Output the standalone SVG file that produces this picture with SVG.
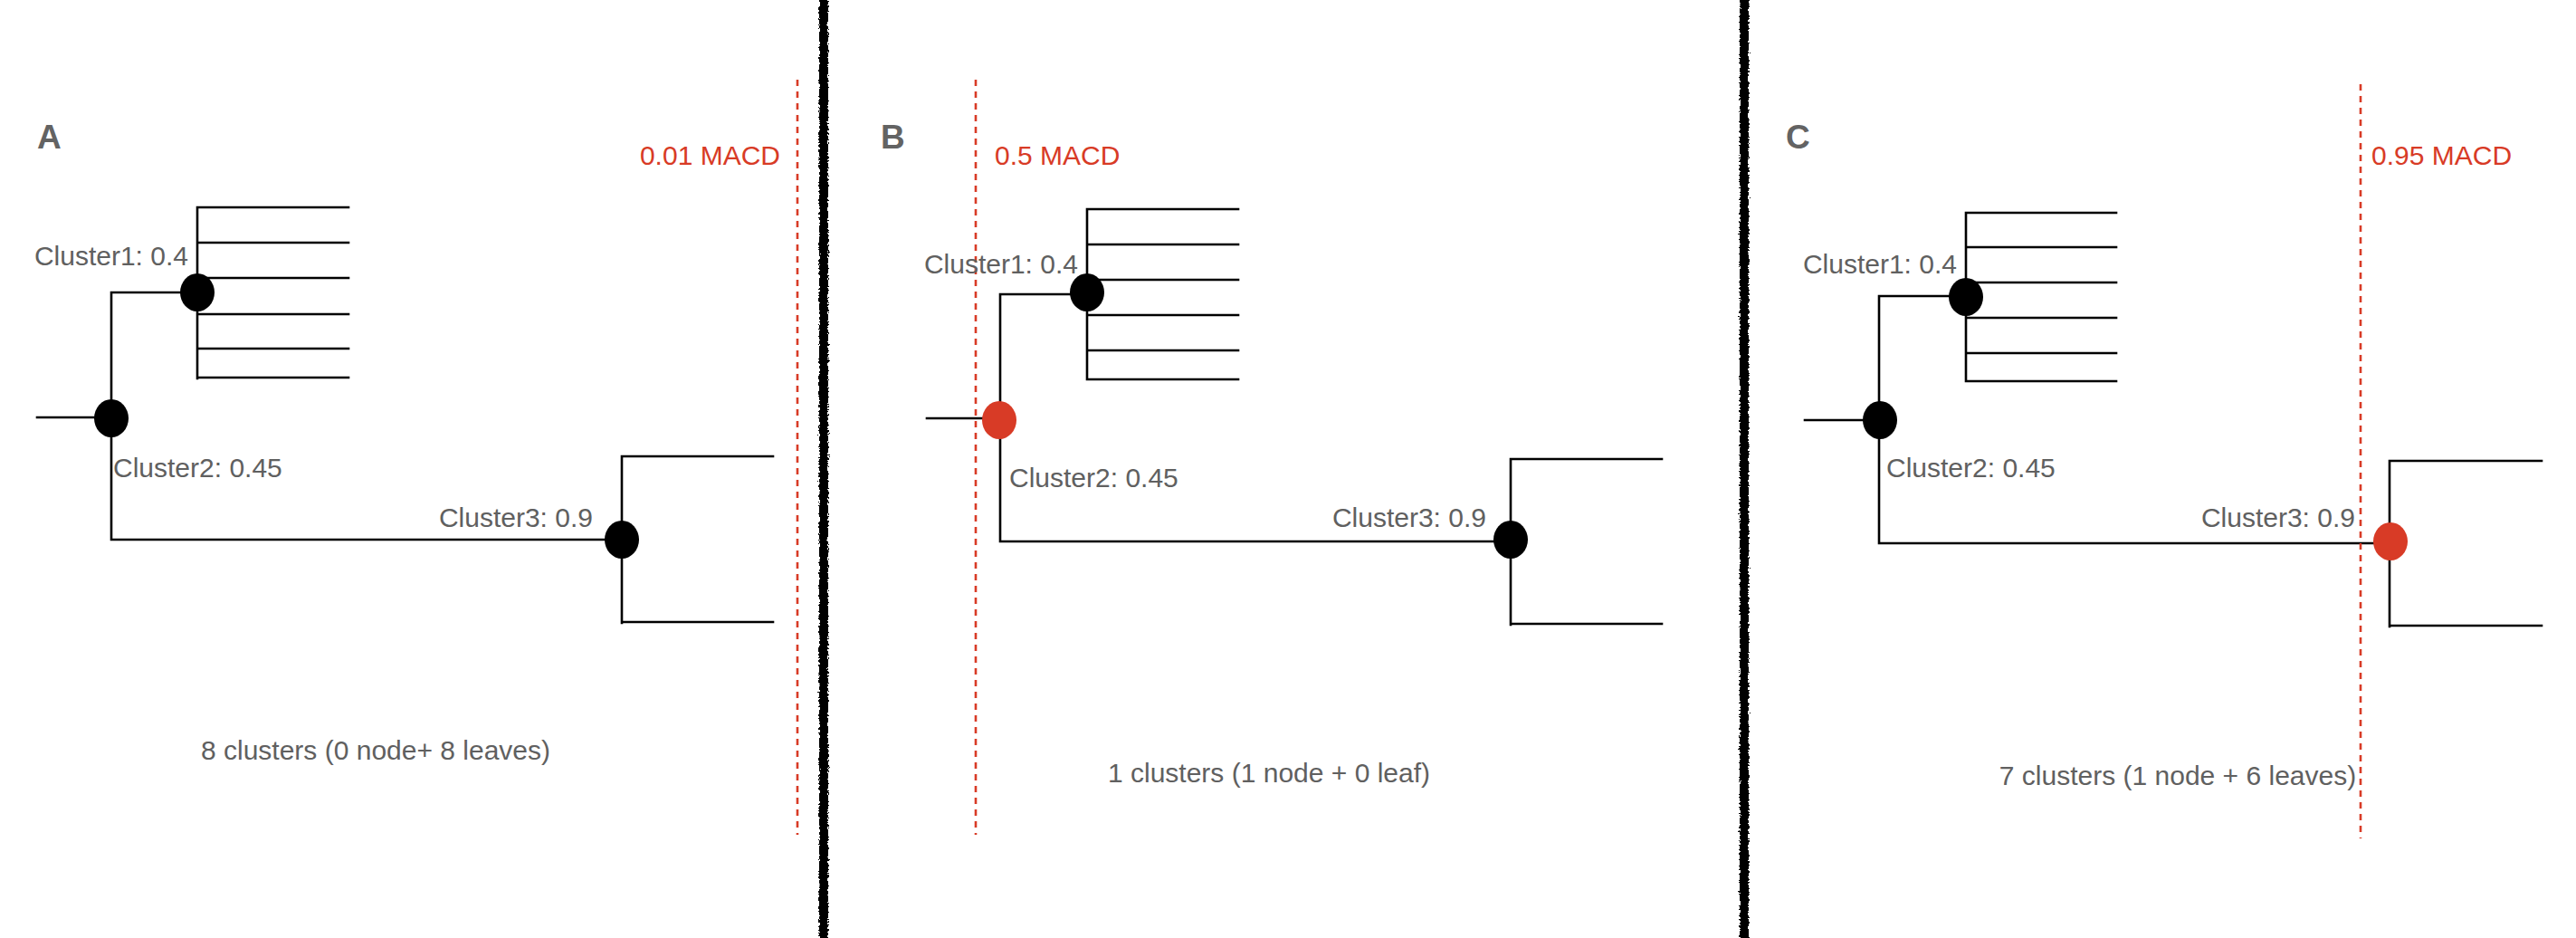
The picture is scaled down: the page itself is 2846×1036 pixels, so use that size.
<svg xmlns="http://www.w3.org/2000/svg" width="2846" height="1036" viewBox="0 0 2846 1036">
<style>
.br{fill:none;stroke:#000;stroke-width:2.6;stroke-linecap:square}
.cut{fill:none;stroke:#d83b26;stroke-width:2.6;stroke-dasharray:7 6}
.lbl{font-family:"Liberation Sans",Arial,sans-serif;font-size:30px;fill:#606060}
.red{font-family:"Liberation Sans",Arial,sans-serif;font-size:30px;fill:#d83b26}
.pan{font-family:"Liberation Sans",Arial,sans-serif;font-size:37px;font-weight:bold;fill:#636363}
.nb{fill:#000}
.nr{fill:#d83b26}
.div{fill:#000}
</style>
<defs>
<filter id="rough" filterUnits="userSpaceOnUse" x="880" y="-20" width="1080" height="1080">
<feTurbulence type="fractalNoise" baseFrequency="0.45" numOctaves="2" seed="3" result="n"/>
<feDisplacementMap in="SourceGraphic" in2="n" scale="5" xChannelSelector="R" yChannelSelector="G"/>
</filter>
</defs>
<rect width="2846" height="1036" fill="#fff"/>

<g id="dividers" filter="url(#rough)">
<rect class="div" x="905" y="-5" width="10" height="1046"/>
<rect class="div" x="1922" y="-5" width="10" height="1046"/>
</g>

<g id="connectors">
<!-- Panel A -->
<path class="br" d="M41 461 H123 M123 323 V596 M123 323 H218 M123 596 H687"/>
<path class="br" d="M218 229 V418 M218 229 H385 M218 268 H385 M218 307 H385 M218 347 H385 M218 385 H385 M218 417 H385"/>
<path class="br" d="M687 504 V688 M687 504 H854 M687 687 H854"/>
<line class="cut" x1="881" y1="88" x2="881" y2="922"/>
<!-- Panel B -->
<path class="br" d="M1024 462 H1104 M1105 325 V598 M1105 325 H1201 M1105 598 H1669"/>
<path class="br" d="M1201 231 V419 M1201 231 H1368 M1201 270 H1368 M1201 309 H1368 M1201 348 H1368 M1201 387 H1368 M1201 419 H1368"/>
<path class="br" d="M1669 507 V690 M1669 507 H1836 M1669 689 H1836"/>
<line class="cut" x1="1078" y1="88" x2="1078" y2="922"/>
<!-- Panel C -->
<path class="br" d="M1994 464 H2076 M2076 327 V600 M2076 327 H2172 M2076 600 H2640"/>
<path class="br" d="M2172 235 V421 M2172 235 H2338 M2172 273 H2338 M2172 312 H2338 M2172 351 H2338 M2172 390 H2338 M2172 421 H2338"/>
<path class="br" d="M2640 509 V692 M2640 509 H2808 M2640 691 H2808"/>
<line class="cut" x1="2608" y1="93" x2="2608" y2="926"/>
</g>

<g id="panelA">
<text class="pan" x="41" y="164">A</text>
<text class="red" x="862" y="182" text-anchor="end">0.01 MACD</text>
<g id="A-cluster1"><ellipse class="nb" cx="218" cy="323" rx="19" ry="21"/><text class="lbl" x="208" y="293" text-anchor="end">Cluster1: 0.4</text></g>
<g id="A-cluster2"><ellipse class="nb" cx="123" cy="462" rx="19" ry="21"/><text class="lbl" x="125" y="527">Cluster2: 0.45</text></g>
<g id="A-cluster3"><ellipse class="nb" cx="687" cy="596" rx="19" ry="21"/><text class="lbl" x="655" y="582" text-anchor="end">Cluster3: 0.9</text></g>
<text class="lbl" x="415" y="839" text-anchor="middle">8 clusters (0 node+ 8 leaves)</text>
</g>

<g id="panelB">
<text class="pan" x="973" y="164">B</text>
<text class="red" x="1099" y="182">0.5 MACD</text>
<g id="B-cluster1"><ellipse class="nb" cx="1201" cy="323" rx="19" ry="21"/><text class="lbl" x="1191" y="302" text-anchor="end">Cluster1: 0.4</text></g>
<g id="B-cluster2"><ellipse class="nr" cx="1104" cy="464" rx="19" ry="21"/><text class="lbl" x="1115" y="538">Cluster2: 0.45</text></g>
<g id="B-cluster3"><ellipse class="nb" cx="1669" cy="596" rx="19" ry="21"/><text class="lbl" x="1642" y="582" text-anchor="end">Cluster3: 0.9</text></g>
<text class="lbl" x="1402" y="864" text-anchor="middle">1 clusters (1 node + 0 leaf)</text>
</g>

<g id="panelC">
<text class="pan" x="1973" y="164">C</text>
<text class="red" x="2620" y="182">0.95 MACD</text>
<g id="C-cluster1"><ellipse class="nb" cx="2172" cy="328" rx="19" ry="21"/><text class="lbl" x="2162" y="302" text-anchor="end">Cluster1: 0.4</text></g>
<g id="C-cluster2"><ellipse class="nb" cx="2077" cy="464" rx="19" ry="21"/><text class="lbl" x="2084" y="527">Cluster2: 0.45</text></g>
<g id="C-cluster3"><ellipse class="nr" cx="2641" cy="598" rx="19" ry="21"/><text class="lbl" x="2602" y="582" text-anchor="end">Cluster3: 0.9</text></g>
<text class="lbl" x="2406" y="867" text-anchor="middle">7 clusters (1 node + 6 leaves)</text>
</g>
</svg>
